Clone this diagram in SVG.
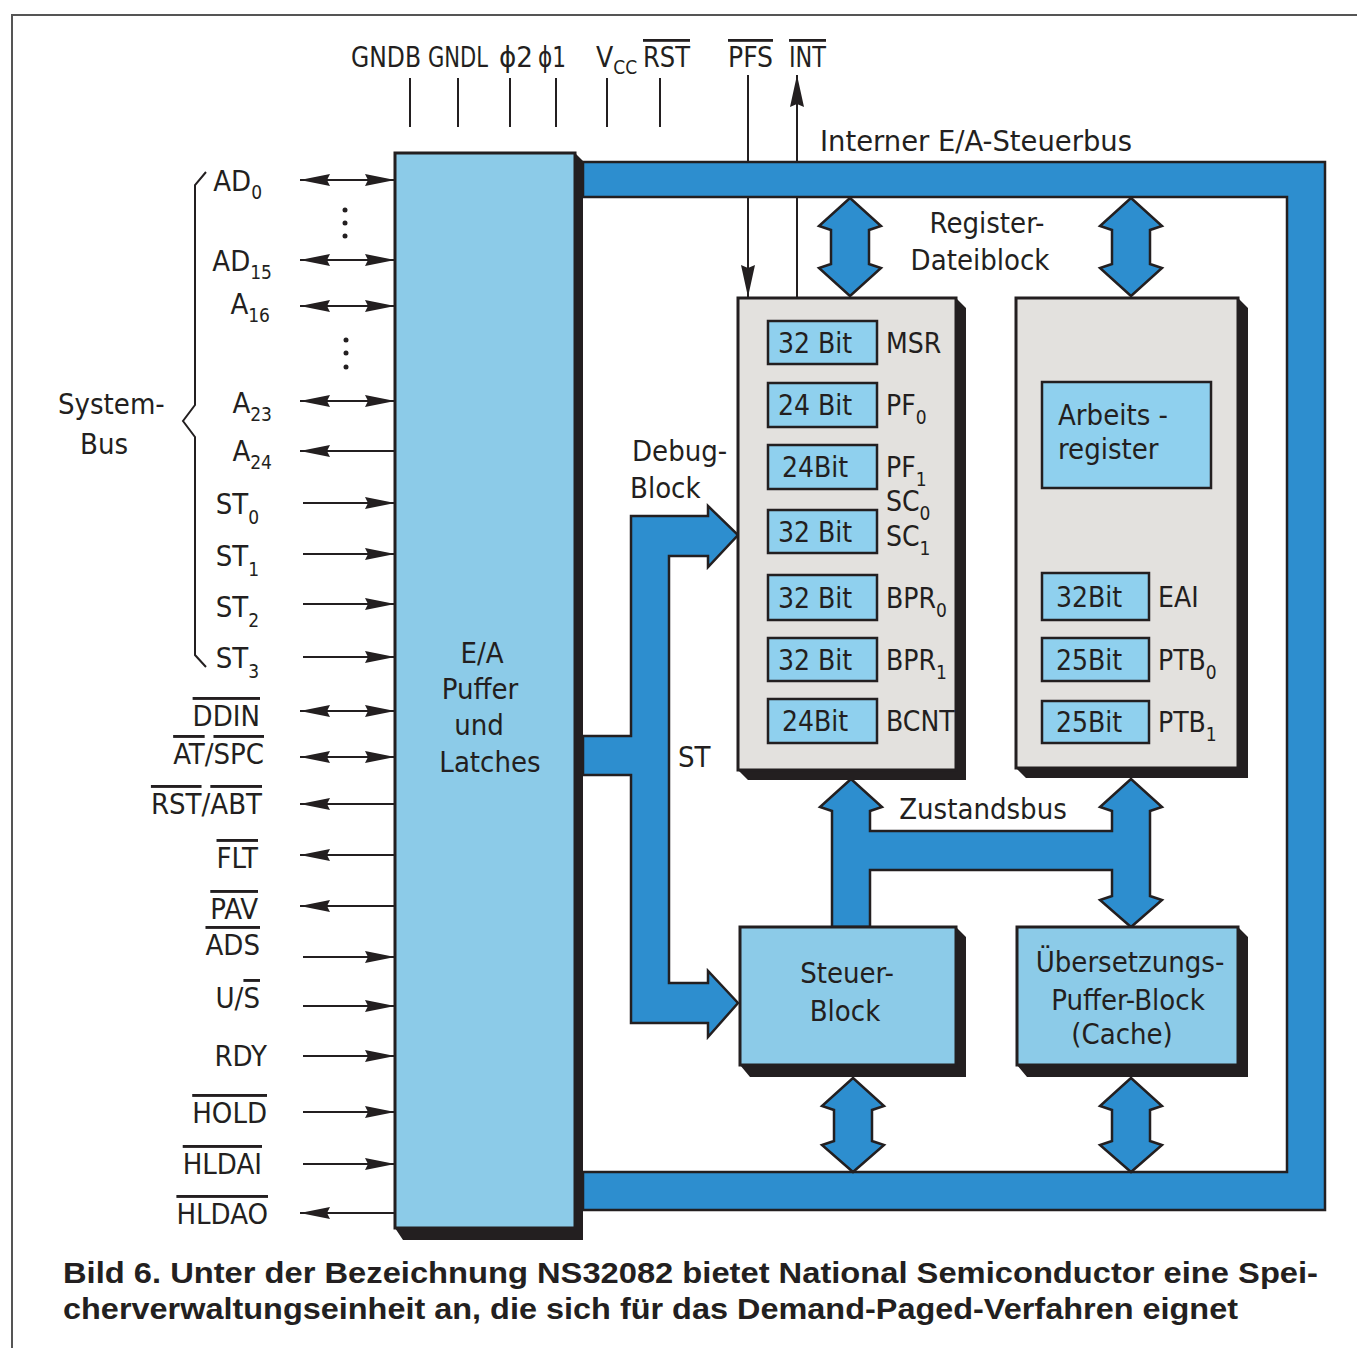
<svg xmlns="http://www.w3.org/2000/svg" width="1357" height="1348" viewBox="0 0 1357 1348">
<defs>
<style>
.t{font-family:"DejaVu Sans Condensed","DejaVu Sans",sans-serif;font-stretch:condensed;fill:#231f20;font-size:28px}
.l{font-size:29px}
.sub{font-size:19px}
.ov{text-decoration:overline}
.cap{font-family:"Liberation Sans",Arial,sans-serif;font-weight:bold;font-size:30px;fill:#231f20}
.w{stroke:#231f20;stroke-width:2;fill:none}
.lb{fill:#8ccbe8;stroke:#231f20;stroke-width:3}
.rg{fill:#8fd0ee;stroke:#231f20;stroke-width:2.5}
.gr{fill:#e3e1de;stroke:#231f20;stroke-width:3}
.sh{fill:#231f20}
.bus{fill:#2d8ecf;stroke:#231f20;stroke-width:2.5;stroke-linejoin:miter}
</style>
<marker id="ah" viewBox="0 0 30 12" refX="30" refY="6" markerWidth="30" markerHeight="12" markerUnits="userSpaceOnUse" orient="auto-start-reverse">
<path d="M0,0 L30,6 L0,12 L3,6 z" fill="#231f20"/>
</marker>
<marker id="ah2" viewBox="0 0 32 14" refX="32" refY="7" markerWidth="32" markerHeight="14" markerUnits="userSpaceOnUse" orient="auto-start-reverse">
<path d="M0,0 L32,7 L0,14 L3,7 z" fill="#231f20"/>
</marker>
</defs>
<rect width="1357" height="1348" fill="#ffffff"/>
<g id="frame"><path d="M12,1348 V15 H1357" stroke="#555" stroke-width="2" fill="none"/></g>

<g id="connectors">
<g class="w">
<line x1="410" y1="78" x2="410" y2="127"/>
<line x1="458" y1="78" x2="458" y2="127"/>
<line x1="510" y1="78" x2="510" y2="127"/>
<line x1="556" y1="78" x2="556" y2="127"/>
<line x1="607" y1="78" x2="607" y2="127"/>
<line x1="660" y1="78" x2="660" y2="127"/>
<line x1="748" y1="75" x2="748" y2="297" marker-end="url(#ah2)"/>
<line x1="797" y1="297" x2="797" y2="75" marker-end="url(#ah2)"/>
</g>
<g class="w">
<line x1="300" y1="180" x2="395" y2="180" marker-start="url(#ah)" marker-end="url(#ah)"/>
<line x1="300" y1="260" x2="395" y2="260" marker-start="url(#ah)" marker-end="url(#ah)"/>
<line x1="300" y1="306" x2="395" y2="306" marker-start="url(#ah)" marker-end="url(#ah)"/>
<line x1="300" y1="401" x2="395" y2="401" marker-start="url(#ah)" marker-end="url(#ah)"/>
<line x1="395" y1="451" x2="300" y2="451" marker-end="url(#ah)"/>
<line x1="303" y1="503" x2="395" y2="503" marker-end="url(#ah)"/>
<line x1="303" y1="554" x2="395" y2="554" marker-end="url(#ah)"/>
<line x1="303" y1="604" x2="395" y2="604" marker-end="url(#ah)"/>
<line x1="303" y1="657" x2="395" y2="657" marker-end="url(#ah)"/>
<line x1="300" y1="711" x2="395" y2="711" marker-start="url(#ah)" marker-end="url(#ah)"/>
<line x1="300" y1="757" x2="395" y2="757" marker-start="url(#ah)" marker-end="url(#ah)"/>
<line x1="395" y1="804" x2="300" y2="804" marker-end="url(#ah)"/>
<line x1="395" y1="855" x2="300" y2="855" marker-end="url(#ah)"/>
<line x1="395" y1="906" x2="300" y2="906" marker-end="url(#ah)"/>
<line x1="303" y1="957" x2="395" y2="957" marker-end="url(#ah)"/>
<line x1="303" y1="1006" x2="395" y2="1006" marker-end="url(#ah)"/>
<line x1="303" y1="1056" x2="395" y2="1056" marker-end="url(#ah)"/>
<line x1="303" y1="1112" x2="395" y2="1112" marker-end="url(#ah)"/>
<line x1="303" y1="1164" x2="395" y2="1164" marker-end="url(#ah)"/>
<line x1="395" y1="1213" x2="300" y2="1213" marker-end="url(#ah)"/>
</g>
<g fill="#231f20">
<circle cx="345" cy="210" r="2.5"/><circle cx="345" cy="223" r="2.5"/><circle cx="345" cy="236" r="2.5"/>
<circle cx="346" cy="340" r="2.5"/><circle cx="346" cy="353" r="2.5"/><circle cx="346" cy="367" r="2.5"/>
</g>
<path class="w" d="M206,172 L195,185 L195,405 L183,421 L195,437 L195,655 L206,667"/>
<path class="bus" d="M583,162 H1325 V1210 H583 V1172 H1287 V197 H583 Z"/>
<path class="bus" d="M583,736 H631 V516 H708 V506 L738,535 L708,567 V556 H669 V983 H708 V971 L738,1003 L708,1037 V1023 H631 V775 H583 Z"/>
<path class="bus" d="M850,198 L881,226 L869,230 V264 L881,268 L850,296 L819,268 L831,264 V230 L819,226 Z"/>
<path class="bus" d="M1131,198 L1162,226 L1150,230 V264 L1162,268 L1131,296 L1100,268 L1112,264 V230 L1100,226 Z"/>
<path class="bus" d="M851,779 L882,807 L870,811 V831 H1112 V811 L1100,807 L1131,779 L1162,807 L1150,811 V896 L1162,900 L1131,927 L1100,900 L1112,896 V870 H870 V927 H832 V811 L820,807 Z"/>
<path class="bus" d="M853,1078 L884,1106 L872,1110 V1141 L884,1145 L853,1172 L822,1145 L834,1141 V1110 L822,1106 Z"/>
<path class="bus" d="M1131,1078 L1162,1106 L1150,1110 V1141 L1162,1145 L1131,1172 L1100,1145 L1112,1141 V1110 L1100,1106 Z"/>
</g>

<g id="pins-top">
<text class="t" x="351" y="67" textLength="70" lengthAdjust="spacingAndGlyphs">GNDB</text>
<text class="t" x="428" y="67" textLength="60" lengthAdjust="spacingAndGlyphs">GNDL</text>
<text class="t" x="499" y="67" textLength="34" lengthAdjust="spacingAndGlyphs">ϕ2</text>
<text class="t" x="538" y="67" textLength="28" lengthAdjust="spacingAndGlyphs">ϕ1</text>
<text class="t" x="596" y="67">V<tspan class="sub" dy="7">CC</tspan></text>
<text class="t" x="643" y="67" textLength="47" lengthAdjust="spacingAndGlyphs"><tspan class="ov">RST</tspan></text>
<text class="t" x="728" y="67" textLength="45" lengthAdjust="spacingAndGlyphs"><tspan class="ov">PFS</tspan></text>
<text class="t" x="789" y="67" textLength="37" lengthAdjust="spacingAndGlyphs"><tspan class="ov">INT</tspan></text>
<text class="t" x="820" y="151" textLength="312" lengthAdjust="spacingAndGlyphs">Interner E/A-Steuerbus</text>
</g>

<g id="pins-left" text-anchor="end">
<text class="t l" x="262" y="191">AD<tspan class="sub" dy="8">0</tspan></text>
<text class="t l" x="272" y="271">AD<tspan class="sub" dy="8">15</tspan></text>
<text class="t l" x="270" y="314">A<tspan class="sub" dy="8">16</tspan></text>
<text class="t l" x="272" y="413">A<tspan class="sub" dy="8">23</tspan></text>
<text class="t l" x="272" y="461">A<tspan class="sub" dy="8">24</tspan></text>
<text class="t l" x="259" y="514">ST<tspan class="sub" dy="10">0</tspan></text>
<text class="t l" x="259" y="566">ST<tspan class="sub" dy="10">1</tspan></text>
<text class="t l" x="259" y="617">ST<tspan class="sub" dy="10">2</tspan></text>
<text class="t l" x="259" y="668">ST<tspan class="sub" dy="10">3</tspan></text>
<text class="t l" x="260" y="726"><tspan class="ov">DDIN</tspan></text>
<text class="t l" x="264" y="764"><tspan class="ov">AT</tspan>/<tspan class="ov">SPC</tspan></text>
<text class="t l" x="262" y="814"><tspan class="ov">RST</tspan>/<tspan class="ov">ABT</tspan></text>
<text class="t l" x="258" y="868"><tspan class="ov">FLT</tspan></text>
<text class="t l" x="258" y="919"><tspan class="ov">PAV</tspan></text>
<text class="t l" x="260" y="955"><tspan class="ov">ADS</tspan></text>
<text class="t l" x="260" y="1008">U/<tspan class="ov">S</tspan></text>
<text class="t l" x="267" y="1066">RDY</text>
<text class="t l" x="267" y="1123"><tspan class="ov">HOLD</tspan></text>
<text class="t l" x="262" y="1174"><tspan class="ov">HLDAI</tspan></text>
<text class="t l" x="268" y="1224"><tspan class="ov">HLDAO</tspan></text>
</g>
<g id="systembus-label">
<text class="t l" x="58" y="414">System-</text>
<text class="t l" x="80" y="454">Bus</text>
</g>

<g id="ea-block">
<path class="sh" d="M575,153 L583,161 V1240 H403 L395,1228 H575 Z"/>
<rect class="lb" x="395" y="153" width="180" height="1075"/>
<g text-anchor="middle">
<text class="t l" x="482" y="663">E/A</text>
<text class="t l" x="480" y="699">Puffer</text>
<text class="t l" x="479" y="735">und</text>
<text class="t l" x="490" y="772">Latches</text>
</g>
</g>

<g id="debug-label">
<text class="t l" x="632" y="461">Debug-</text>
<text class="t l" x="630" y="498">Block</text>
<text class="t l" x="678" y="767">ST</text>
</g>
<g id="regfile-label" text-anchor="middle">
<text class="t l" x="987" y="233">Register-</text>
<text class="t l" x="980" y="270">Dateiblock</text>
</g>
<g id="zustandsbus-label"><text class="t l" x="983" y="819" text-anchor="middle">Zustandsbus</text></g>

<g id="register-block-1">
<path class="sh" d="M956,298 L966,308 V780 H748 L738,770 H956 Z"/>
<rect class="gr" x="738" y="298" width="218" height="472"/>
<rect class="rg" x="768" y="321" width="109" height="43"/>
<rect class="rg" x="768" y="383" width="109" height="44"/>
<rect class="rg" x="768" y="445" width="109" height="44"/>
<rect class="rg" x="768" y="510" width="109" height="43"/>
<rect class="rg" x="768" y="575" width="109" height="45"/>
<rect class="rg" x="768" y="638" width="109" height="43"/>
<rect class="rg" x="768" y="699" width="109" height="44"/>
<g text-anchor="middle">
<text class="t" x="815" y="353">32 Bit</text>
<text class="t" x="815" y="415">24 Bit</text>
<text class="t" x="815" y="477">24Bit</text>
<text class="t" x="815" y="542">32 Bit</text>
<text class="t" x="815" y="608">32 Bit</text>
<text class="t" x="815" y="670">32 Bit</text>
<text class="t" x="815" y="731">24Bit</text>
</g>
<text class="t" x="886" y="353">MSR</text>
<text class="t" x="886" y="415">PF<tspan class="sub" dy="9">0</tspan></text>
<text class="t" x="886" y="477">PF<tspan class="sub" dy="9">1</tspan></text>
<text class="t" x="886" y="511">SC<tspan class="sub" dy="9">0</tspan></text>
<text class="t" x="886" y="546">SC<tspan class="sub" dy="9">1</tspan></text>
<text class="t" x="886" y="608">BPR<tspan class="sub" dy="9">0</tspan></text>
<text class="t" x="886" y="670">BPR<tspan class="sub" dy="9">1</tspan></text>
<text class="t" x="886" y="731">BCNT</text>
</g>

<g id="register-block-2">
<path class="sh" d="M1238,298 L1248,308 V778 H1026 L1016,768 H1238 Z"/>
<rect class="gr" x="1016" y="298" width="222" height="470"/>
<rect class="rg" x="1042" y="382" width="169" height="106"/>
<text class="t l" x="1058" y="425">Arbeits -</text>
<text class="t l" x="1058" y="459">register</text>
<rect class="rg" x="1042" y="573" width="107" height="47"/>
<rect class="rg" x="1042" y="638" width="107" height="43"/>
<rect class="rg" x="1042" y="701" width="107" height="42"/>
<g text-anchor="middle">
<text class="t" x="1089" y="607">32Bit</text>
<text class="t" x="1089" y="670">25Bit</text>
<text class="t" x="1089" y="732">25Bit</text>
</g>
<text class="t" x="1158" y="607">EAI</text>
<text class="t" x="1158" y="670">PTB<tspan class="sub" dy="9">0</tspan></text>
<text class="t" x="1158" y="732">PTB<tspan class="sub" dy="9">1</tspan></text>
</g>

<g id="steuer-block">
<path class="sh" d="M956,927 L966,937 V1077 H750 L740,1065 H956 Z"/>
<rect class="lb" x="740" y="927" width="216" height="138"/>
<g text-anchor="middle">
<text class="t l" x="847" y="983">Steuer-</text>
<text class="t l" x="845" y="1021">Block</text>
</g>
</g>

<g id="cache-block">
<path class="sh" d="M1238,927 L1248,937 V1077 H1027 L1017,1065 H1238 Z"/>
<rect class="lb" x="1017" y="927" width="221" height="138"/>
<g text-anchor="middle">
<text class="t l" x="1130" y="972">Übersetzungs-</text>
<text class="t l" x="1128" y="1010">Puffer-Block</text>
<text class="t l" x="1122" y="1044">(Cache)</text>
</g>
</g>

<g id="caption">
<text class="cap" x="63" y="1283" textLength="1255" lengthAdjust="spacingAndGlyphs">Bild 6. Unter der Bezeichnung NS32082 bietet National Semiconductor eine Spei-</text>
<text class="cap" x="63" y="1319" textLength="1175" lengthAdjust="spacingAndGlyphs">cherverwaltungseinheit an, die sich für das Demand-Paged-Verfahren eignet</text>
</g>
</svg>
